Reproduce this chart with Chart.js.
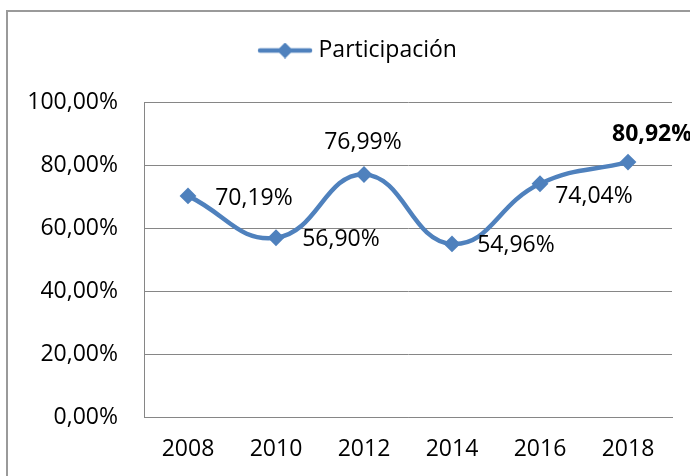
<!DOCTYPE html>
<html>
<head>
<meta charset="utf-8">
<script src="https://cdn.jsdelivr.net/npm/chart.js@4/dist/chart.umd.min.js"></script>
<style>
  html, body { margin: 0; padding: 0; background: #fff; overflow: hidden; }
  #wrap { position: absolute; left: 0; top: 0; width: 714px; height: 476px; }
  #frame { position: absolute; left: 6px; top: 10px; width: 720px; height: 490px;
           border: 2px solid #9a9a9a; box-sizing: border-box; pointer-events: none; }
</style>
</head>
<body>
<div id="wrap"><canvas id="chart"></canvas></div>
<div id="frame"></div>
<script>
// Data
const years = ['2008', '2010', '2012', '2014', '2016', '2018'];
const participacion = [70.19, 56.90, 76.99, 54.96, 74.04, 80.92];
const yTicks = [0, 20, 40, 60, 80, 100];

// Label placement (styling only): offset from the point, bold flag
const labelOffsets = [[66, 3], [65, 2], [-1, -32], [64, 2], [54, 13], [24, -28]];
const labelBold = [false, false, false, false, false, true];

const BLUE = '#4f81bd';
const FONT = '"Open Sans", "DejaVu Sans", sans-serif';
const SIZE = 23;
const fmt = v => v.toFixed(2).replace('.', ',') + '%';

// Legend sample: line with a diamond in the middle
function legendSample() {
  const c = document.createElement('canvas');
  c.width = 56; c.height = 16;
  const g = c.getContext('2d');
  g.strokeStyle = BLUE; g.lineWidth = 4.5; g.lineCap = 'round';
  g.beginPath(); g.moveTo(3, 8); g.lineTo(53, 8); g.stroke();
  g.fillStyle = BLUE;
  g.beginPath(); g.moveTo(28, 0); g.lineTo(36, 8); g.lineTo(28, 16); g.lineTo(20, 8); g.closePath(); g.fill();
  return c;
}

// Extra room under the legend, and centre it on the whole frame
const legendTweak = {
  id: 'legendTweak',
  afterInit(chart) {
    const lg = chart.legend;
    const fit = lg.fit;
    lg.fit = function () { fit.call(this); this.height += 30; };
  },
  afterLayout(chart) {
    chart.legend.left += 24;
    chart.legend.right += 24;
  }
};

const dataLabels = {
  id: 'dataLabels',
  afterDatasetsDraw(chart) {
    const ctx = chart.ctx;
    const meta = chart.getDatasetMeta(0);
    ctx.save();
    ctx.fillStyle = '#000';
    ctx.textAlign = 'center';
    ctx.textBaseline = 'middle';
    meta.data.forEach((pt, i) => {
      ctx.font = (labelBold[i] ? 'bold ' : '') + SIZE + 'px ' + FONT;
      ctx.fillText(fmt(participacion[i]), pt.x + labelOffsets[i][0], pt.y + labelOffsets[i][1]);
    });
    ctx.restore();
  }
};

const sample = legendSample();

new Chart(document.getElementById('chart'), {
  type: 'line',
  data: {
    labels: years,
    datasets: [{
      label: 'Participación',
      data: participacion,
      borderColor: BLUE,
      backgroundColor: BLUE,
      borderWidth: 4.5,
      tension: 0.45,
      pointStyle: 'rectRot',
      pointRadius: 7,
      pointBorderWidth: 2,
      pointBackgroundColor: BLUE,
      pointBorderColor: BLUE,
      fill: false,
    }],
  },
  options: {
    responsive: true,
    maintainAspectRatio: false,
    animation: false,
    layout: { padding: { top: 19, right: 42, bottom: 0, left: 0 } },
    plugins: {
      legend: {
        position: 'top',
        labels: {
          usePointStyle: true,
          pointStyleWidth: 44,
          color: '#000',
          font: { family: FONT, size: SIZE },
          padding: 20,
          generateLabels: () => [{
            text: 'Participación',
            pointStyle: sample,
            fontColor: '#000',
            datasetIndex: 0,
          }],
        },
      },
      tooltip: { enabled: false },
    },
    scales: {
      x: {
        offset: true,
        grid: { display: false, drawTicks: false },
        border: { display: true, color: '#868686' },
        ticks: { color: '#000', padding: 19, font: { family: FONT, size: SIZE } },
        afterFit: s => { s.height = 59; },
      },
      y: {
        min: 0,
        max: 100,
        afterBuildTicks: s => { s.ticks = yTicks.map(v => ({ value: v })); },
        grid: { color: '#868686', lineWidth: 1, drawTicks: false },
        border: { display: true, color: '#868686' },
        ticks: { color: '#000', padding: 26, font: { family: FONT, size: SIZE }, callback: v => fmt(v) },
        afterFit: s => { s.width = 144; },
      },
    },
  },
  plugins: [legendTweak, dataLabels],
});
</script>
</body>
</html>
